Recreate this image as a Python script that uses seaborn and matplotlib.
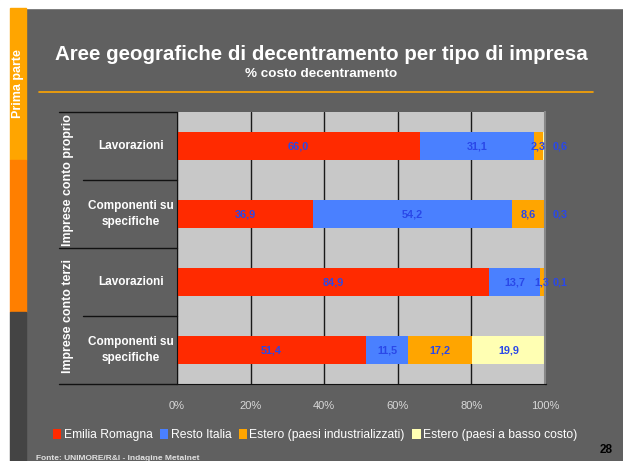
import pandas as pd
import seaborn as sns
import matplotlib.pyplot as plt
from matplotlib.patches import Patch, Rectangle
from matplotlib.lines import Line2D

sns.set_style("white")
plt.rcParams.update({
    "font.family": ["Liberation Sans", "DejaVu Sans"],
    "font.size": 8,
})

# data
gruppi = ["Imprese conto proprio", "Imprese conto proprio",
          "Imprese conto terzi", "Imprese conto terzi"]
categorie = ["Lavorazioni", "Componenti su\nspecifiche",
             "Lavorazioni", "Componenti su\nspecifiche"]
serie = ["Emilia Romagna", "Resto Italia",
         "Estero (paesi industrializzati)", "Estero (paesi a basso costo)"]
emilia_romagna = [66.0, 36.9, 84.9, 51.4]
resto_italia = [31.1, 54.2, 13.7, 11.5]
estero_ind = [2.3, 8.6, 1.3, 17.2]
estero_basso = [0.6, 0.3, 0.1, 19.9]
tick_pct = [0, 20, 40, 60, 80, 100]

colori = ["#FF2A00", "#4A80FF", "#FFA500", "#FFFFB3"]
sfondo = "#606060"

righe = [f"{g} | {c}" for g, c in zip(gruppi, categorie)]
valori = [emilia_romagna, resto_italia, estero_ind, estero_basso]
df = pd.DataFrame({"riga": righe})
cum = [0.0] * 4
for k, vals in enumerate(valori):
    cum = [a + b for a, b in zip(cum, vals)]
    df[f"cum{k}"] = cum

fig = plt.figure(figsize=(6.23, 4.61), dpi=100)
fig.patch.set_facecolor(sfondo)

# white margins and coloured strip on the left
fig.patches.append(Rectangle((0, 0), 10 / 623, 1, transform=fig.transFigure,
                             color="white", zorder=0))
fig.patches.append(Rectangle((0, 1 - 8 / 461), 1, 8 / 461, transform=fig.transFigure,
                             color="white", zorder=0))
fig.patches.append(Rectangle((10 / 623, 1 - 160 / 461), 16 / 623, 152 / 461,
                             transform=fig.transFigure, color="#FFA500", zorder=0))
fig.patches.append(Rectangle((10 / 623, 1 - 312 / 461), 16 / 623, 152 / 461,
                             transform=fig.transFigure, color="#FF7F00", zorder=0))
fig.patches.append(Rectangle((10 / 623, 0), 16 / 623, 1 - 312 / 461,
                             transform=fig.transFigure, color="#444444", zorder=0))
fig.text(18 / 623, 1 - 84 / 461, "Prima parte", rotation=90, color="white",
         fontsize=9, fontweight="bold", ha="center", va="center")

fig.text(321 / 623, 1 - 55 / 461, "Aree geografiche di decentramento per tipo di impresa",
         color="white", fontsize=14.8, fontweight="bold", ha="center", va="center")
fig.text(321 / 623, 1 - 74 / 461, "% costo decentramento",
         color="white", fontsize=9.7, fontweight="bold", ha="center", va="center")
fig.lines.append(Line2D([39 / 623, 593 / 623], [1 - 92 / 461] * 2,
                        transform=fig.transFigure, color="#FFA500", lw=1.2))

ax = fig.add_axes([177 / 623, 1 - 384 / 461, 368 / 623, 272 / 461])
ax.set_facecolor("#C8C8C8")

for k in reversed(range(4)):
    sns.barplot(data=df, x=f"cum{k}", y="riga", order=righe, color=colori[k],
                saturation=1, width=0.4, linewidth=0, ax=ax)

# data labels (tiny last segments are labelled just outside the bar)
for i in range(4):
    start = 0.0
    for k, vals in enumerate(valori):
        v = vals[i]
        xc = start + v / 2 if v >= 1 else 104.2
        ax.text(xc, i, f"{v:.1f}".replace(".", ","), ha="center", va="center",
                color="#2A48E8", fontsize=7.8, fontweight="bold")
        start += v

ax.set_xlim(0, 100)
ax.set_ylim(3.5, -0.5)
ax.set_xticks(tick_pct)
ax.set_xticklabels([f"{t}%" for t in tick_pct], color="#D8D8D8", fontsize=8)
ax.tick_params(axis="x", direction="out", length=4, width=1, color="#111111", pad=8)
ax.tick_params(axis="y", left=False, labelleft=False)
ax.set_xlabel("")
ax.set_ylabel("")
ax.set_axisbelow(True)
ax.grid(axis="x", color="#1A1A1A", lw=1)
ax.grid(axis="y", visible=False)

ax.spines["top"].set_visible(False)
ax.spines["right"].set_color("#888888")
ax.spines["right"].set_linewidth(1.5)
ax.spines["left"].set_color("#111111")
ax.spines["bottom"].set_color("#111111")
ax.spines["bottom"].set_bounds(0, 100)

# category table on the left
x0 = (59 - 177) / 368
xm = (83 - 177) / 368
for y, xs in [(1, x0), (0.75, xm), (0.5, x0), (0.25, xm), (0, x0)]:
    ax.plot([xs, 0], [y, y], transform=ax.transAxes, color="#111111",
            lw=1, clip_on=False, scalex=False, scaley=False)
ax.plot([1, 1.003], [0, 0], transform=ax.transAxes, color="#111111", lw=1,
        clip_on=False, scalex=False, scaley=False)

for yc, g in [(0.75, gruppi[0]), (0.25, gruppi[2])]:
    ax.text((68 - 177) / 368, yc, g, transform=ax.transAxes, rotation=90,
            color="white", fontsize=8.9, fontweight="bold", ha="center", va="center")
for i, c in enumerate(categorie):
    ax.text((131 - 177) / 368, 1 - (i + 0.5) / 4, c, transform=ax.transAxes,
            color="white", fontsize=8.5, fontweight="bold", ha="center", va="center",
            linespacing=1.5)

handles = [Patch(facecolor=c, edgecolor="none") for c in colori]
leg = fig.legend(handles, serie, loc="center", bbox_to_anchor=(315 / 623, 1 - 435 / 461),
                 ncol=4, frameon=False, handlelength=0.7, handleheight=0.9,
                 handletextpad=0.2, columnspacing=0.6, fontsize=8.7)
for t in leg.get_texts():
    t.set_color("white")

fig.text(36 / 623, 1 - 458 / 461, "Fonte: UNIMORE/R&I - Indagine Metalnet",
         color="#E0E0E0", fontsize=6, fontweight="bold", ha="left", va="center")
fig.text(606 / 623, 1 - 450 / 461, "28", color="black", fontsize=8.5,
         fontweight="bold", ha="center", va="center")

fig.savefig("out.png", dpi=100, facecolor=fig.get_facecolor())
